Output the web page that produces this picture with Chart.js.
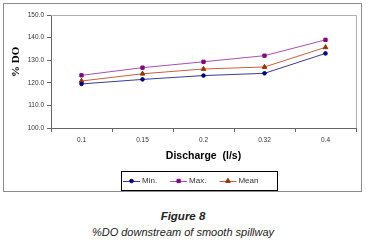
<!DOCTYPE html>
<html><head><meta charset="utf-8">
<script src="https://cdn.jsdelivr.net/npm/chart.js@4"></script>
<style>
html,body{margin:0;padding:0;background:#fff;width:366px;height:242px;overflow:hidden}
#box{position:absolute;left:3px;top:3px;width:357px;height:187px;border:1px solid #8c8c8c}
canvas{display:block}
.cap{position:absolute;left:0;width:366px;text-align:center;font-family:"Liberation Sans",Arial,sans-serif;font-style:italic;font-size:11px;color:#222;line-height:14px}
</style></head><body>
<div id="box"><canvas id="c" width="357" height="187"></canvas></div>
<div class="cap" style="top:209px;font-weight:bold;font-size:11.5px">Figure 8</div>
<div class="cap" style="top:225px">%DO downstream of smooth spillway</div>
<script>
const categories = ['0.1', '0.15', '0.2', '0.32', '0.4'];
const minValues  = [119.5, 121.5, 123.2, 124.2, 133.0];
const maxValues  = [123.3, 126.7, 129.3, 132.0, 139.0];
const meanValues = [120.8, 124.0, 126.1, 127.0, 135.7];
const seriesNames = ['Min.', 'Max.', 'Mean'];
const yMin = 100, yMax = 150, yStep = 10;

const styles = [
  {line:'#3a3a9a', point:'#000080', pointStyle:'circle', r:1.8},
  {line:'#a650b0', point:'#800080', pointStyle:'rect', r:2.3},
  {line:'#c8603c', point:'#993300', pointStyle:'triangle', r:2.7}
];
const seriesData = [minValues, maxValues, meanValues];

const plotFrame = {
  id:'plotFrame',
  beforeDatasetsDraw(chart){
    const {ctx, chartArea:a} = chart;
    ctx.save();
    ctx.strokeStyle = '#b0b0b0';
    ctx.lineWidth = 1;
    ctx.beginPath();
    ctx.moveTo(a.left, Math.round(a.top)+0.5);
    ctx.lineTo(Math.round(a.right)+0.5, Math.round(a.top)+0.5);
    ctx.lineTo(Math.round(a.right)+0.5, a.bottom);
    ctx.stroke();
    ctx.restore();
  }
};

const boxLegend = {
  id:'boxLegend',
  afterDraw(chart){
    const ctx = chart.ctx;
    const left = 117, top = 167, right = 273, bottom = 186;
    ctx.save();
    ctx.strokeStyle = '#000';
    ctx.lineWidth = 1;
    ctx.strokeRect(left+0.5, top+0.5, right-left, bottom-top);
    ctx.font = '8px "Liberation Sans", Arial, sans-serif';
    ctx.textBaseline = 'middle';
    const cy = (top+bottom)/2 + 0.5;
    let x = left + 2;
    chart.data.datasets.forEach((ds) => {
      ctx.strokeStyle = ds.borderColor;
      ctx.lineWidth = 1;
      ctx.beginPath();
      ctx.moveTo(x, Math.round(cy)+0.5);
      ctx.lineTo(x+17, Math.round(cy)+0.5);
      ctx.stroke();
      ctx.fillStyle = ds.pointBackgroundColor;
      ctx.strokeStyle = ds.pointBorderColor;
      Chart.helpers.drawPoint(ctx, {pointStyle: ds.pointStyle, radius: ds.pointRadius, rotation:0, borderWidth:1}, x+8.5, cy);
      ctx.fillStyle = '#333';
      ctx.fillText(ds.label, x+19, cy);
      x += 19 + ctx.measureText(ds.label).width + 13;
    });
    ctx.restore();
  }
};

new Chart(document.getElementById('c'), {
  type:'line',
  data:{
    labels: categories,
    datasets: seriesData.map((d, i) => ({
      label: seriesNames[i],
      data: d,
      borderColor: styles[i].line,
      backgroundColor: styles[i].point,
      pointBackgroundColor: styles[i].point,
      pointBorderColor: styles[i].point,
      pointStyle: styles[i].pointStyle,
      pointRadius: styles[i].r,
      pointBorderWidth: 1,
      borderWidth: 1,
      tension: 0,
      fill: false
    }))
  },
  options:{
    responsive:false,
    animation:false,
    devicePixelRatio:1,
    layout:{padding:{top:11,right:2,left:0,bottom:23}},
    plugins:{legend:{display:false}, tooltip:{enabled:false}},
    scales:{
      x:{
        offset:true,
        grid:{offset:true, drawOnChartArea:false, tickLength:4, color:'#666'},
        border:{color:'#666'},
        ticks:{font:{family:'"Liberation Sans", Arial, sans-serif', size:6.5}, color:'#333', padding:4, maxRotation:0},
        title:{display:true, text:'Discharge  (l/s)', color:'#000',
          font:{family:'"Liberation Sans", Arial, sans-serif', size:10.5, weight:'bold'},
          padding:{top:0,bottom:6}},
        afterFit(s){ s.height = 40; }
      },
      y:{
        min:yMin, max:yMax,
        grid:{drawOnChartArea:false, tickLength:4, color:'#666'},
        border:{color:'#666'},
        ticks:{stepSize:yStep, callback:v => Number(v).toFixed(1),
          font:{family:'"Liberation Sans", Arial, sans-serif', size:6.5}, color:'#333', padding:3},
        title:{display:true, text:'\u2003\u2002 % DO', color:'#000',
          font:{family:'"Liberation Serif", "Times New Roman", serif', size:11, weight:'bold'},
          padding:{top:5.4,bottom:0}},
        afterFit(s){ s.width = 47; }
      }
    }
  },
  plugins:[plotFrame, boxLegend]
});
</script>
</body></html>
